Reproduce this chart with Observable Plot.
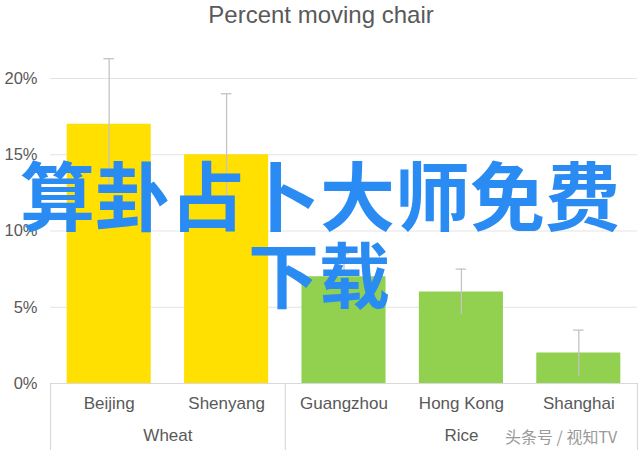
<!DOCTYPE html>
<html>
<head>
<meta charset="utf-8">
<script src="https://cdn.jsdelivr.net/npm/d3@7"></script>
<script src="https://cdn.jsdelivr.net/npm/@observablehq/plot@0.6"></script>
<style>
  html, body { margin: 0; padding: 0; background: #fff; }
  #wrap { position: relative; width: 640px; height: 450px; overflow: hidden; font-family: "Liberation Sans", Arial, sans-serif; }
  .wm { position: absolute; color: #2a8cf2; font-family: "Noto Sans CJK SC", sans-serif; font-weight: 700; white-space: nowrap; line-height: 1; }
  .wm2 { position: absolute; color: #9a9a9a; font-family: "Noto Sans CJK SC", sans-serif; font-size: 16px; white-space: nowrap; line-height: 1; }
</style>
</head>
<body>
<div id="wrap"></div>
<script>
const title = "Percent moving chair";
const cities = ["Beijing", "Shenyang", "Guangzhou", "Hong Kong", "Shanghai"];
const groups = ["Wheat", "Wheat", "Rice", "Rice", "Rice"];
const values = [17, 15, 7, 6, 2];
const errors = [4.3, 4, 1.5, 1.5, 1.5];
const yTicks = [0, 5, 10, 15, 20];
const groupNames = ["Wheat", "Rice"];

const yellow = "#ffe000", green = "#92d050";
const textColor = "#595959";

const data = cities.map((c, i) => ({
  i, city: c, group: groups[i], value: values[i], err: errors[i],
  color: groups[i] === "Wheat" ? yellow : green
}));

// group centres and boundaries (in category-index units)
const groupInfo = groupNames.map(g => {
  const idx = data.filter(d => d.group === g).map(d => d.i);
  return { group: g, center: d3.mean(idx), lo: d3.min(idx) - 0.5, hi: d3.max(idx) + 0.5 };
});
const separators = Array.from(new Set(groupInfo.flatMap(g => [g.lo, g.hi])));

const half = 0.358; // half bar width, in band units
const cap = 0.045;

const plot = Plot.plot({
  width: 640,
  height: 450,
  marginLeft: 50,
  marginRight: 3,
  marginTop: 78,
  marginBottom: 67,
  x: { domain: [-0.5, cities.length - 0.5], axis: null },
  y: { domain: [0, 20], axis: null },
  style: { fontFamily: "'Liberation Sans', Arial, sans-serif", background: "#fff" },
  marks: [
    Plot.ruleY(yTicks.filter(t => t > 0), { stroke: "#e3e3e3", strokeWidth: 1.2 }),
    Plot.text(yTicks, { y: d => d, frameAnchor: "left", dx: -13, textAnchor: "end", text: d => d + "%", fill: textColor, fontSize: 16.5 }),
    Plot.rectY(data, { x1: d => d.i - half, x2: d => d.i + half, y1: 0, y2: "value", fill: "color" }),
    Plot.ruleX(data, { x: "i", y1: d => d.value - d.err, y2: d => d.value + d.err, stroke: "#c4c4c4", strokeWidth: 1.3 }),
    Plot.ruleY(data, { y: d => d.value + d.err, x1: d => d.i - cap, x2: d => d.i + cap, stroke: "#c4c4c4", strokeWidth: 1.3 }),
    Plot.ruleY([0], { stroke: "#d9d9d9", strokeWidth: 1.2 }),
    Plot.axisX(separators, { tickSize: 70, tickFormat: () => "", stroke: "#d9d9d9", strokeWidth: 1.2 }),
    Plot.text(data, { x: "i", frameAnchor: "bottom", dy: 25, text: "city", fill: textColor, fontSize: 17 }),
    Plot.text(groupInfo, { x: "center", frameAnchor: "bottom", dy: 57, text: "group", fill: textColor, fontSize: 17 }),
    Plot.text([title], { frameAnchor: "top", dx: -23, dy: -73, text: d => d, fill: textColor, fontSize: 24 })
  ]
});

const wrap = document.getElementById("wrap");
wrap.appendChild(plot);

const w1 = document.createElement("div");
w1.className = "wm";
w1.textContent = "算卦占卜大师免费";
w1.style.cssText = "left:20px;top:155px;font-size:75px;letter-spacing:0px;";
wrap.appendChild(w1);

const w2 = document.createElement("div");
w2.className = "wm";
w2.textContent = "下载";
w2.style.cssText = "left:248px;top:236px;font-size:71px;";
wrap.appendChild(w2);

const w3 = document.createElement("div");
w3.className = "wm2";
w3.textContent = "头条号 / 视知TV";
w3.style.cssText = "left:505px;top:428px;";
wrap.appendChild(w3);
</script>
</body>
</html>
